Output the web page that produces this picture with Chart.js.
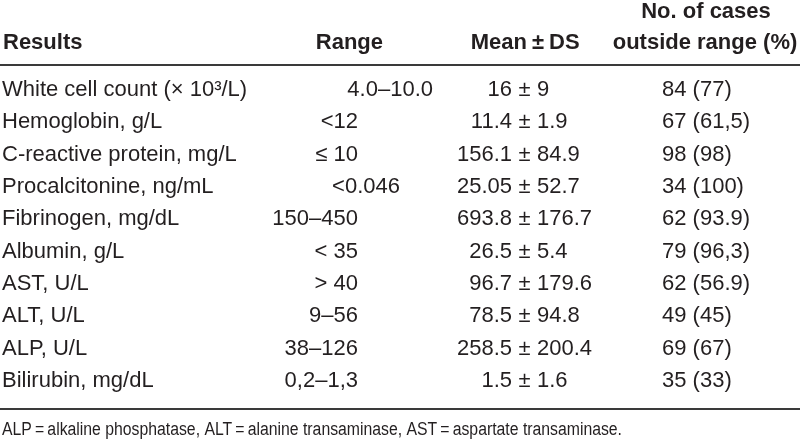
<!DOCTYPE html>
<html>
<head>
<meta charset="utf-8">
<script src="https://cdn.jsdelivr.net/npm/chart.js@4/dist/chart.umd.min.js"></script>
<style>
  html, body { margin: 0; padding: 0; background: #fff; }
  #wrap { width: 800px; height: 446px; }
</style>
</head>
<body>
<div id="wrap"><canvas id="myChart" width="800" height="446"></canvas></div>
<script>
// table values
const results = ['White cell count (\u00d7 10\u00b3/L)', 'Hemoglobin, g/L', 'C-reactive protein, mg/L',
    'Procalcitonine, ng/mL', 'Fibrinogen, mg/dL', 'Albumin, g/L', 'AST, U/L', 'ALT, U/L', 'ALP, U/L',
    'Bilirubin, mg/dL'];
const ranges = ['4.0\u201310.0', '<12', '\u2264 10', '<0.046', '150\u2013450', '< 35', '> 40', '9\u201356',
    '38\u2013126', '0,2\u20131,3'];
const means = ['16', '11.4', '156.1', '25.05', '693.8', '26.5', '96.7', '78.5', '258.5', '1.5'];
const sds = ['9', '1.9', '84.9', '52.7', '176.7', '5.4', '179.6', '94.8', '200.4', '1.6'];
const cases = [84, 67, 98, 34, 62, 79, 62, 49, 69, 35];
const percents = ['77', '61,5', '98', '100', '93.9', '96,3', '56.9', '45', '67', '33'];
const footnote = 'ALP\u2009=\u2009alkaline phosphatase, ALT\u2009=\u2009alanine transaminase, AST\u2009=\u2009aspartate transaminase.';

// layout (x in canvas units, row offsets for the odd range cells)
const rangeShift = [75, 0, 0, 42, 0, 0, 0, 0, 0, 0];
const fam = '"Liberation Sans", Arial, sans-serif';
const ink = '#231f20';

const tablePlugin = {
    id: 'tablePlugin',
    afterDraw(chart) {
        const ctx = chart.ctx;
        const x = chart.scales.x;
        const y = chart.scales.y;
        ctx.save();
        ctx.fillStyle = ink;
        ctx.textBaseline = 'middle';

        // header
        ctx.font = 'bold 22px ' + fam;
        let hy = y.getPixelForValue(-1.46);
        let hy1 = y.getPixelForValue(-2.42);
        ctx.textAlign = 'left';
        ctx.fillText('Results', x.getPixelForValue(3), hy);
        ctx.textAlign = 'right';
        ctx.fillText('Range', x.getPixelForValue(383), hy);
        ctx.fillText('Mean', x.getPixelForValue(527), hy);
        ctx.textAlign = 'center';
        ctx.fillText('\u00b1', x.getPixelForValue(538), hy);
        ctx.textAlign = 'left';
        ctx.fillText('DS', x.getPixelForValue(549), hy);
        ctx.textAlign = 'center';
        ctx.fillText('No. of cases', x.getPixelForValue(706), hy1);
        ctx.fillText('outside range (%)', x.getPixelForValue(705), hy);

        // rows
        ctx.font = '22px ' + fam;
        results.forEach((name, i) => {
            let ry = y.getPixelForValue(i);
            ctx.textAlign = 'left';
            ctx.fillText(name, x.getPixelForValue(2), ry);
            ctx.textAlign = 'right';
            ctx.fillText(ranges[i], x.getPixelForValue(358 + rangeShift[i]), ry);
            ctx.fillText(means[i], x.getPixelForValue(512), ry);
            ctx.textAlign = 'center';
            ctx.fillText('\u00b1', x.getPixelForValue(524.5), ry);
            ctx.textAlign = 'left';
            ctx.fillText(sds[i], x.getPixelForValue(537), ry);
            ctx.fillText(cases[i] + ' (' + percents[i] + ')', x.getPixelForValue(662), ry);
        });

        // rules
        ctx.strokeStyle = '#3a3a3a';
        ctx.lineWidth = 2;
        [-0.77, 9.88].forEach((v) => {
            let ly = Math.round(y.getPixelForValue(v));
            ctx.beginPath();
            ctx.moveTo(x.getPixelForValue(0), ly);
            ctx.lineTo(x.getPixelForValue(800), ly);
            ctx.stroke();
        });

        // footnote
        ctx.font = '18px ' + fam;
        ctx.textAlign = 'left';
        ctx.fillText(footnote, x.getPixelForValue(2), y.getPixelForValue(10.53), 620);
        ctx.restore();
    }
};

const ctx = document.getElementById('myChart').getContext('2d');
const myChart = new Chart(ctx, {
    type: 'scatter',
    data: {
        labels: results,
        datasets: [{
            data: cases.map((c, i) => ({ x: 662, y: i })),
            pointRadius: 0,
            showLine: false
        }]
    },
    options: {
        responsive: false,
        animation: false,
        events: [],
        layout: { padding: { left: 0, right: 0, top: 90, bottom: 65 } },
        plugins: { legend: { display: false }, tooltip: { enabled: false } },
        scales: {
            x: { type: 'linear', min: 0, max: 800, display: false },
            y: { type: 'category', labels: results, display: false, offset: false }
        }
    },
    plugins: [tablePlugin]
});
</script>
</body>
</html>
